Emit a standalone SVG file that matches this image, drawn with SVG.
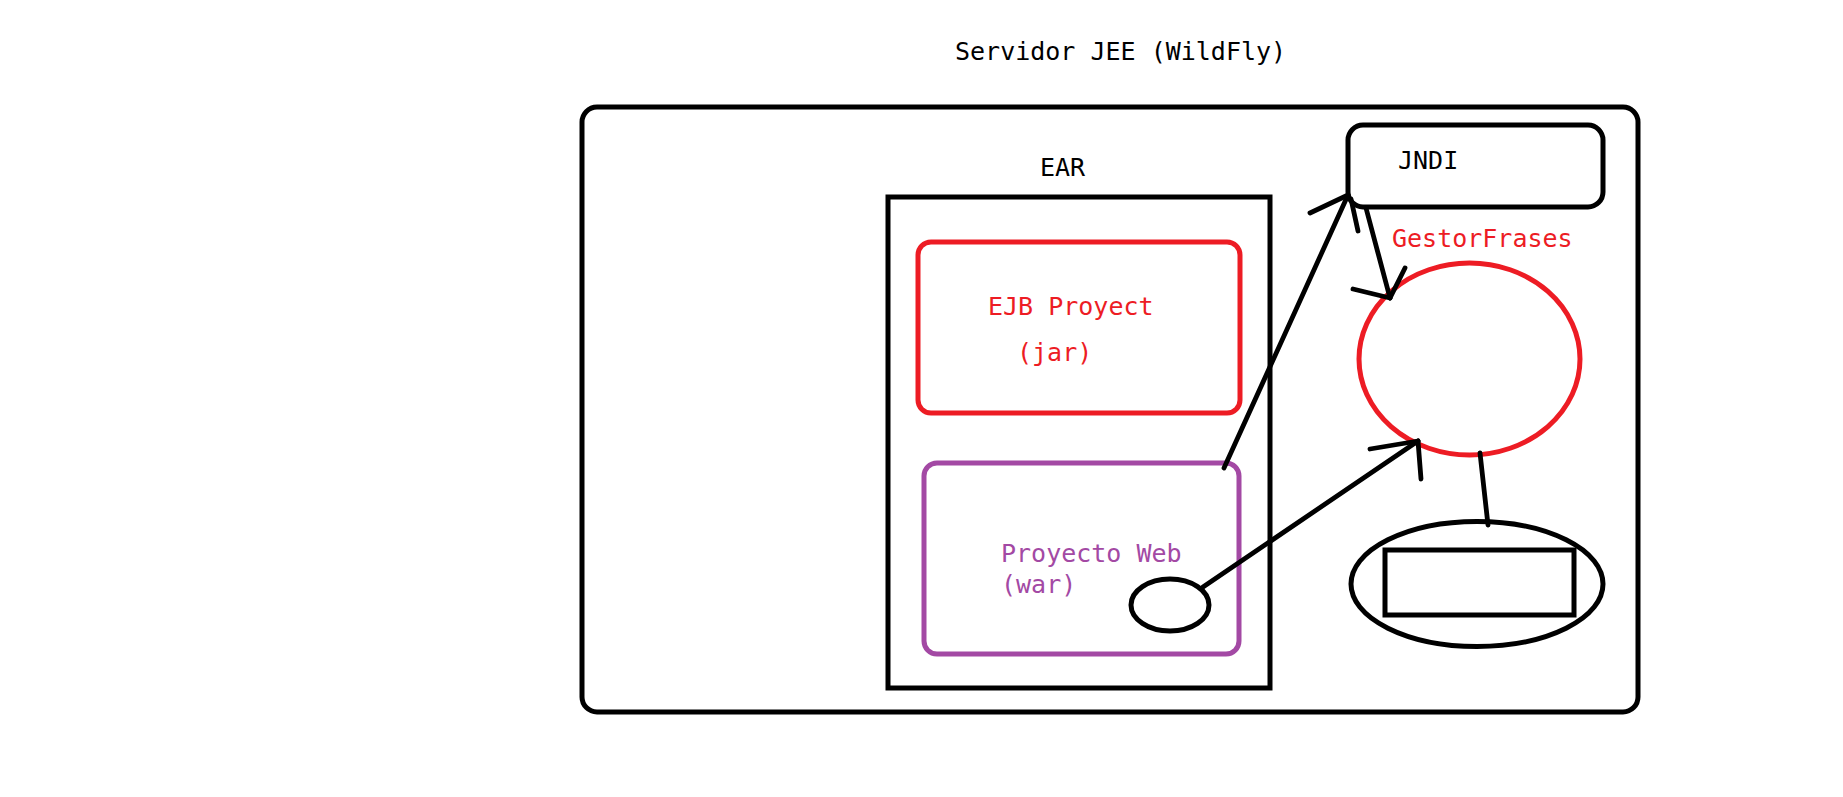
<svg xmlns="http://www.w3.org/2000/svg" width="1843" height="797" viewBox="0 0 1843 797">
  <style>
    text { font-family: "DejaVu Sans Mono", "Liberation Mono", monospace; font-size: 25px; }
    .blk { fill: #000000; }
    .red { fill: #ED1C24; }
    .pur { fill: #A349A4; }
    .box { fill: none; stroke: #000000; stroke-width: 5; }
    .redbox { fill: none; stroke: #ED1C24; stroke-width: 5; }
    .purbox { fill: none; stroke: #A349A4; stroke-width: 5; }
    .conn { fill: none; stroke: #000000; stroke-width: 4.8; stroke-linecap: round; stroke-linejoin: round; }
  </style>
  <rect width="1843" height="797" fill="#ffffff"/>

  <g id="title">
    <text class="blk" x="955" y="60">Servidor JEE (WildFly)</text>
  </g>

  <g id="servidor">
    <rect class="box" x="582" y="107" width="1056" height="605" rx="15" ry="15"/>
  </g>

  <g id="ear">
    <text class="blk" x="1040" y="176">EAR</text>
    <rect class="box" x="888" y="197" width="382" height="491"/>
  </g>

  <g id="ejb">
    <rect class="redbox" x="918" y="242" width="322" height="171" rx="13" ry="13"/>
    <text class="red" x="988" y="315">EJB Proyect</text>
    <text class="red" x="1017" y="361">(jar)</text>
  </g>

  <g id="web">
    <rect class="purbox" x="924" y="463" width="315" height="191" rx="13" ry="13"/>
    <text class="pur" x="1001" y="562">Proyecto Web</text>
    <text class="pur" x="1001" y="593">(war)</text>
  </g>

  <g id="cliente">
    <ellipse class="box" cx="1170" cy="605" rx="39" ry="26"/>
  </g>

  <g id="jndi">
    <rect class="box" x="1348" y="125" width="255" height="82" rx="15" ry="15" stroke-width="5.5"/>
    <text class="blk" x="1398" y="169">JNDI</text>
  </g>

  <g id="gestor">
    <text class="red" x="1392" y="247">GestorFrases</text>
    <ellipse class="redbox" cx="1469.5" cy="359" rx="110.5" ry="96"/>
  </g>

  <g id="instancia">
    <ellipse class="box" cx="1477" cy="584" rx="126" ry="62.5" stroke-width="3.8"/>
    <rect class="box" x="1385" y="550" width="189" height="65"/>
  </g>

  <g id="connectors">
    <path class="conn" d="M1224,468 L1348,195"/>
    <path class="conn" d="M1310,213 L1348,195"/>
    <path class="conn" d="M1351,199 L1358,231"/>

    <path class="conn" d="M1366,208 L1390,298"/>
    <path class="conn" d="M1353,289 L1390,298"/>
    <path class="conn" d="M1405,268 L1390,298"/>

    <path class="conn" d="M1203,587 L1418,441"/>
    <path class="conn" d="M1370,449 L1418,441"/>
    <path class="conn" d="M1421,479 L1418,441"/>

    <path class="conn" d="M1480,453 L1488,525"/>
  </g>
</svg>
